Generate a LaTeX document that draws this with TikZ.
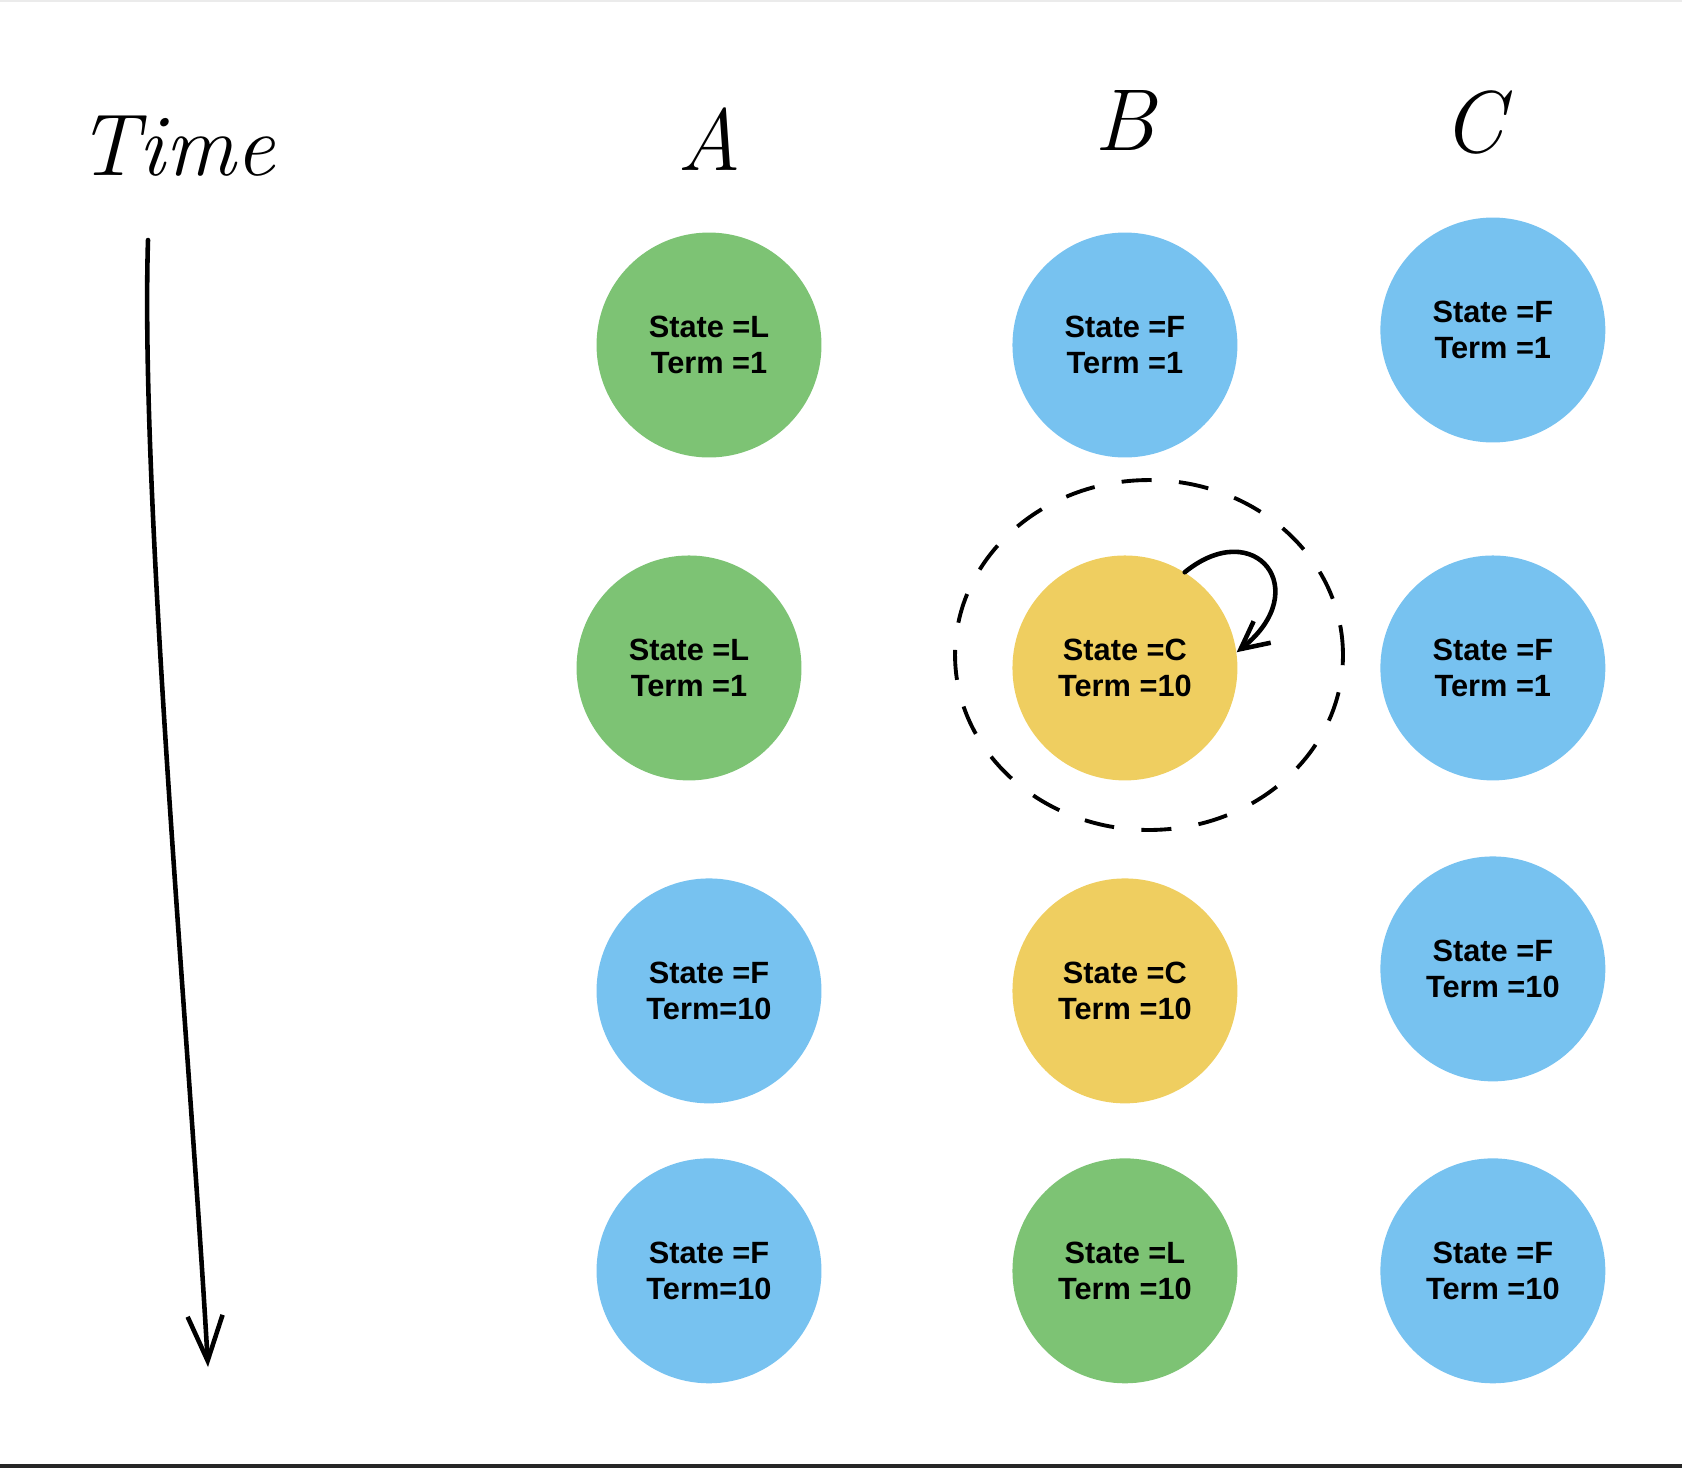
\documentclass[tikz,border=0pt]{standalone}
\usepackage{fontspec}
\usepackage{tikz}
\usetikzlibrary{arrows.meta, shapes.geometric}
\newfontfamily\statefont{Liberation Sans}
\definecolor{leadgreen}{RGB}{125,195,116}
\definecolor{follblue}{RGB}{119,194,240}
\definecolor{candyellow}{RGB}{239,206,96}
\tikzstyle{srv}=[circle, minimum size=4.5cm, inner sep=0pt, align=center, font=\statefont\bfseries\fontsize{17.5}{20.5}\selectfont]
\tikzstyle{lead}=[srv, fill=leadgreen]
\tikzstyle{foll}=[srv, fill=follblue]
\tikzstyle{cand}=[srv, fill=candyellow]
\tikzstyle{hand}=[font=\itshape\fontsize{50}{50}\selectfont]
\tikzstyle{pen}=[line width=2.6pt, line cap=round, line join=round]
\tikzstyle{ring}=[ellipse, draw, line width=2.2pt, dash pattern=on 0.6cm off 0.55cm, minimum width=7.76cm, minimum height=7cm, inner sep=0pt]

\begin{document}
\begin{tikzpicture}[x=0.02cm, y=-0.02cm, node distance=2cm, >={Straight Barb[length=0.9cm,width=0.7cm]}]
      \useasboundingbox (0,0) rectangle (1682,1468);
      \fill[black!8] (0,0) rectangle (1682,1.5);
      \fill[black!85] (0,1464) rectangle (1682,1468);

      \node [hand] (time) at (176,146) {Time};
      \node [hand] (hA) at (709,139) {A};
      \node [hand] (hB) at (1125,120) {B};
      \node [hand] (hC) at (1473,122) {C};

      \node [lead] (a1) at (709,345) {State =L\\Term =1};
      \node [foll] (b1) [right of=a1, node distance=8.32cm] {State =F\\Term =1};
      \node [foll] (c1) [right of=b1, node distance=7.36cm, yshift=0.3cm] {State =F\\Term =1};

      \node [cand] (b2) [below of=b1, node distance=6.46cm] {State =C\\Term =10};
      \node [lead] (a2) [left of=b2, node distance=8.72cm] {State =L\\Term =1};
      \node [foll] (c2) [right of=b2, node distance=7.36cm] {State =F\\Term =1};

      \node [cand] (b3) [below of=b2, node distance=6.46cm] {State =C\\Term =10};
      \node [foll] (a3) [left of=b3, node distance=8.32cm] {State =F\\Term=10};
      \node [foll] (c3) [right of=b3, node distance=7.36cm, yshift=0.44cm] {State =F\\Term =10};

      \node [lead] (b4) [below of=b3, node distance=5.6cm] {State =L\\Term =10};
      \node [foll] (a4) [left of=b4, node distance=8.32cm] {State =F\\Term=10};
      \node [foll] (c4) [right of=b4, node distance=7.36cm] {State =F\\Term =10};

      % election round around B
      \node [ring] (focus) at (1149,655) {};
      \draw [pen, -{Straight Barb[length=0.55cm,width=0.55cm]}] (b2.58) .. controls (1255,515) and (1315,590) .. (b2.8);

      % time axis
      \coordinate (tstart) at (148,240);
      \coordinate (tend) at (208,1367);
      \draw [pen, ->] (tstart) .. controls (140,500) and (190,1050) .. (tend);
  \end{tikzpicture}
\end{document}
